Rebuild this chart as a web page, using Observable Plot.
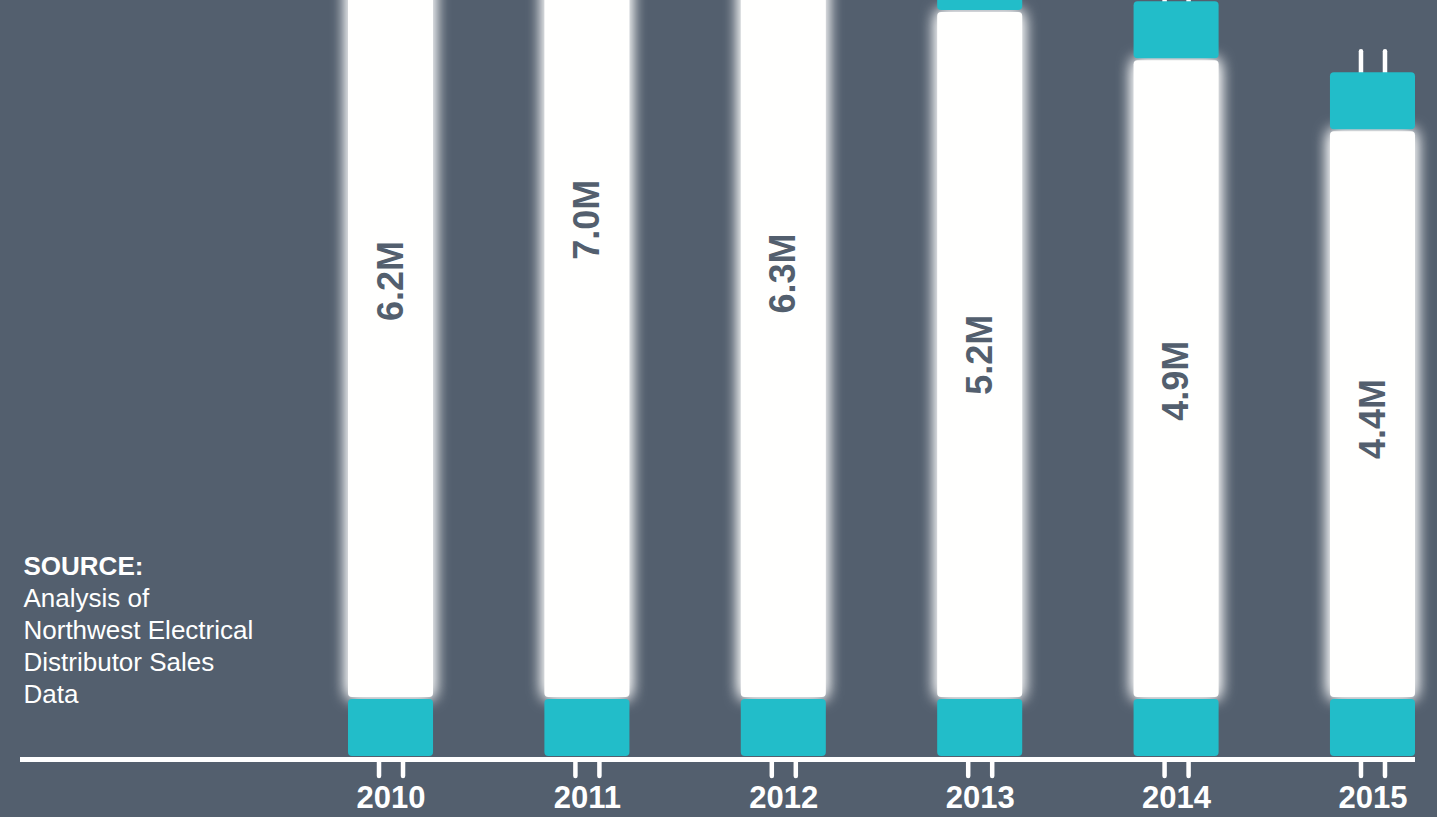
<!DOCTYPE html>
<html>
<head>
<meta charset="utf-8">
<script src="https://cdn.jsdelivr.net/npm/d3@7"></script>
<script src="https://cdn.jsdelivr.net/npm/@observablehq/plot@0.6"></script>
<style>
  html, body { margin: 0; padding: 0; background: #535f6e; overflow: hidden; }
  #chart svg { display: block; }
</style>
</head>
<body>
<div id="chart"></div>
<script>
// Data
const years = ["2010", "2011", "2012", "2013", "2014", "2015"];
const sales = [6.2, 7.0, 6.3, 5.24, 4.9, 4.4];           // millions
const valueLabels = ["6.2M", "7.0M", "6.3M", "5.2M", "4.9M", "4.4M"];
const sourceTitle = "SOURCE:";
const sourceLines = ["Analysis of", "Northwest Electrical", "Distributor Sales", "Data"];

const data = years.map((year, i) => ({year, value: sales[i], label: valueLabels[i]}));

const BG = "#535f6e";
const TEAL = "#22bdc9";
const WHITE = "#ffffff";
const TUBE = "#fffffe";
const FONT = "'Liberation Sans', Helvetica, Arial, sans-serif";

const pins = (opts) => [-12, 12].map(dx => Plot.ruleX(data, {
  x: "year", dx, stroke: WHITE, strokeWidth: 4.5, strokeLinecap: "round", ...opts
}));

const chart = Plot.plot({
  width: 1437,
  height: 817,
  marginTop: 0,
  marginBottom: 61,
  marginLeft: 20,
  marginRight: 22,
  style: {background: BG, fontFamily: FONT, overflow: "visible"},
  x: {type: "band", domain: years, range: [348, 1415], paddingInner: 0.567, paddingOuter: 0, round: false, axis: null},
  y: {domain: [0, 756 / 142], axis: null},
  marks: [
    Plot.ruleY([0], {dy: 3, stroke: WHITE, strokeWidth: 5}),
    ...pins({y1: 0, y2: 0, insetTop: 4, insetBottom: -20}),
    Plot.barY(data, {x: "year", y1: 0, y2: "value", insetBottom: 59, fill: TUBE, rx: 4, ariaLabel: "tube"}),
    Plot.barY(data, {x: "year", y1: 0, y2: 0, insetTop: -57, fill: TEAL, rx: 4}),
    ...pins({y1: "value", y2: "value", insetTop: -80, insetBottom: 55}),
    Plot.barY(data, {x: "year", y1: "value", y2: "value", insetTop: -59, insetBottom: 2, fill: TEAL, rx: 4}),
    Plot.text(data, {
      x: "year", y: d => d.value * 0.54, text: "label", rotate: -90,
      fontSize: 36, fontWeight: "bold", fill: BG
    }),
    Plot.text(data, {
      x: "year", y: 0, dy: 42, text: "year",
      fontSize: 31, fontWeight: "bold", fill: WHITE
    }),
    Plot.text([sourceTitle], {
      frameAnchor: "top-left", dx: 3, dy: 556, lineAnchor: "top", textAnchor: "start",
      fontSize: 26, fontWeight: "bold", fill: WHITE
    }),
    Plot.text([sourceLines.join("\n")], {
      frameAnchor: "top-left", dx: 3, dy: 584, lineAnchor: "top", textAnchor: "start",
      fontSize: 26, lineHeight: 32 / 26, fontWeight: 300, fill: WHITE
    })
  ]
});

document.getElementById("chart").appendChild(chart);

// soft glow around the white tubes
const NS = "http://www.w3.org/2000/svg";
const defs = document.createElementNS(NS, "defs");
const filt = document.createElementNS(NS, "filter");
filt.setAttribute("id", "glow");
filt.setAttribute("x", "-60%");
filt.setAttribute("y", "-10%");
filt.setAttribute("width", "220%");
filt.setAttribute("height", "120%");
const blur = document.createElementNS(NS, "feGaussianBlur");
blur.setAttribute("in", "SourceGraphic");
blur.setAttribute("stdDeviation", "8");
blur.setAttribute("result", "b");
const merge = document.createElementNS(NS, "feMerge");
for (const src of ["b", "b", "SourceGraphic"]) {
  const n = document.createElementNS(NS, "feMergeNode");
  n.setAttribute("in", src);
  merge.appendChild(n);
}
filt.appendChild(blur);
filt.appendChild(merge);
defs.appendChild(filt);
chart.insertBefore(defs, chart.firstChild);

const groups = Array.from(chart.querySelectorAll("g")).filter(g =>
  g.getAttribute("aria-label") === "tube" || (g.getAttribute("fill") || "").toLowerCase() === TUBE);
for (const g of groups) for (const r of g.querySelectorAll("rect")) r.setAttribute("filter", "url(#glow)");
</script>
</body>
</html>
